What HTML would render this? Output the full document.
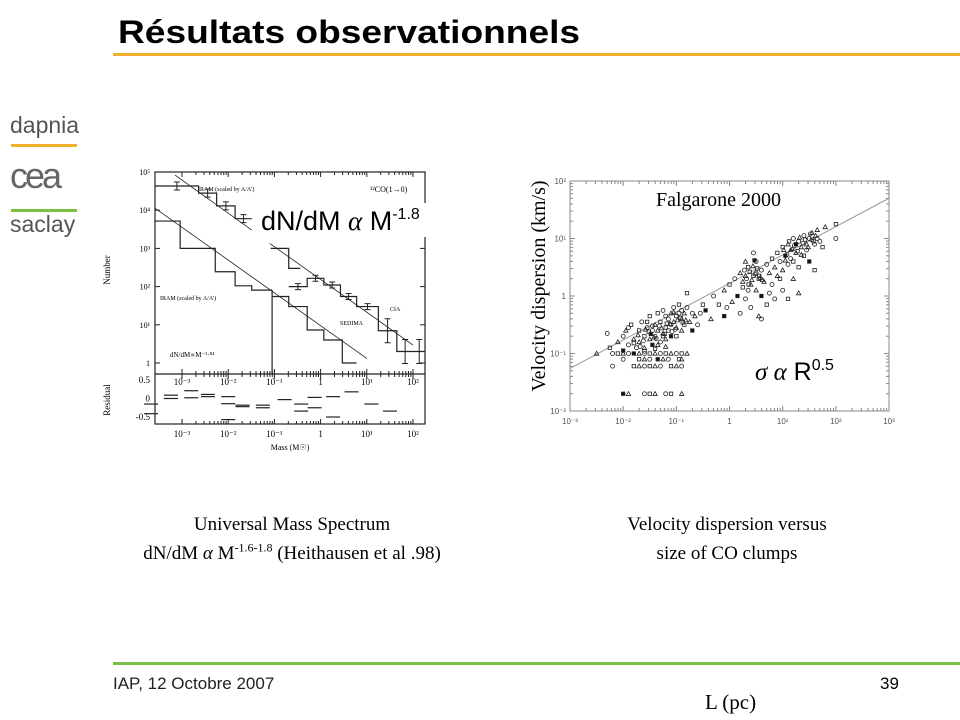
<!DOCTYPE html>
<html><head><meta charset="utf-8"><style>
body{margin:0;background:#fff;width:960px;height:720px;overflow:hidden;position:relative;font-family:"Liberation Sans",sans-serif}
.abs{position:absolute}
.serif{font-family:"Liberation Serif",serif}
sup{line-height:0}
</style></head><body>
<div class="abs" style="left:118px;top:14px;font-size:32px;font-weight:bold;color:#000;transform:scaleX(1.16);transform-origin:0 0;white-space:nowrap">Résultats observationnels</div>
<div class="abs" style="left:113px;top:53px;width:847px;height:3px;background:#f0b030"></div>
<div class="abs" style="left:10px;top:112px;font-size:23px;color:#555">dapnia</div>
<div class="abs" style="left:11px;top:144px;width:66px;height:3px;background:#f0b030"></div>
<div class="abs" style="left:10px;top:155px;font-size:36px;color:#666;letter-spacing:-3px">cea</div>
<div class="abs" style="left:11px;top:209px;width:66px;height:3px;background:#7ac143"></div>
<div class="abs" style="left:10px;top:211px;font-size:23px;color:#555">saclay</div>
<div class="abs" style="left:113px;top:662px;width:847px;height:3px;background:#7ac143"></div>
<div class="abs" style="left:113px;top:674px;font-size:17px;color:#222">IAP, 12 Octobre 2007</div>
<div class="abs" style="left:880px;top:674px;font-size:17px;color:#000">39</div>
<div class="abs serif" style="left:705px;top:690px;font-size:21px">L (pc)</div>
<div class="abs serif" style="left:92px;top:510px;width:400px;text-align:center;font-size:19px;line-height:29px">Universal Mass Spectrum<br>dN/dM <i>α</i> M<sup style="font-size:12px">-1.6-1.8</sup> (Heithausen et al .98)</div>
<div class="abs serif" style="left:527px;top:510px;width:400px;text-align:center;font-size:19px;line-height:29px">Velocity dispersion versus<br>size of CO clumps</div>

<svg class="abs" style="left:0;top:0" width="960" height="720" id="svg"></svg>

<script>
// ---- Left chart data (log10 mass edges, counts) ----
const iramUpperEdges=[-3.58,-2.64,-2.25,-1.85,-1.49];
const iramUpperCounts=[43000,28000,13000,6000];
const iramLowerEdges=[-3.58,-3.04,-2.28,-1.85,-1.49,-1.05];
const iramLowerCounts=[5200,1000,245,105,81];
const sedimaEdges=[-1.05,-0.69,-0.29,0.07,0.47,0.78];
const sedimaCounts=[55,30,7.3,4,1];
const cfaEdges=[-0.69,-0.29,0.07,0.43,0.78,1.25,1.65,2.01,2.26];
const cfaCounts=[100,165,110,55,30,7,2,2];
const cfaTopEdges=[-1.08,-0.69,-0.44];
const cfaTopCounts=[1000,300];
const fitUpper=[[-3.15,4.92],[-1.49,3.48]];
const fitLower=[[-3.58,4.05],[1.0,0.12]];
const fitCfa=[[-1.1,3.13],[2.0,0.47]];
const residM=[-3.67,-3.67,-3.24,-3.24,-2.8,-2.8,-2.44,-2.44,-2.0,-2.0,-2.0,-1.69,-1.69,-1.25,-1.25,-0.78,-0.42,-0.42,-0.13,-0.13,0.27,0.27,0.67,1.1,1.5];
const residV=[-0.15,-0.41,0.09,0.0,0.21,0.02,0.11,0.05,0.05,-0.14,-0.57,-0.18,-0.22,-0.18,-0.25,-0.03,-0.15,-0.34,0.03,-0.25,0.05,-0.5,0.18,-0.15,-0.34];
const leftYTicks=["10⁵","10⁴","10³","10²","10¹","1"];
const leftXTicks=["10⁻³","10⁻²","10⁻¹","1","10¹","10²"];

// ---- Right chart data (log10 L, log10 sigma) ----
const logL=[-2.5,-2.3,-2.25,-2.1,-2.0,-2.0,-1.95,-1.9,-1.85,-1.8,-1.75,-1.7,-1.7,-1.65,-1.6,-1.6,-1.55,-1.5,-1.5,-1.45,-1.45,-1.4,-1.4,-1.35,-1.35,-1.3,-1.3,-1.25,-1.25,-1.2,-1.2,-1.15,-1.15,-1.1,-1.1,-1.1,-1.05,-1.05,-1.0,-1.0,-0.95,-0.95,-0.9,-0.9,-0.85,-0.85,-0.8,-0.8,-0.75,-0.7,-0.7,-0.65,-0.55,-0.5,-0.35,-1.9,-1.55,-1.35,-1.2,-1.0,-0.9,
-2.2,-2.1,-2.0,-1.9,-1.8,-1.7,-1.6,-1.5,-1.4,-1.3,-1.2,-1.1,-1.0,-0.9,-0.8,
-2.0,-1.7,-1.6,-1.5,-1.35,-1.25,-1.15,-0.95,-0.9,
-2.2,-1.8,-1.7,-1.6,-1.5,-1.4,-1.3,-1.1,-1.0,-0.9,
-2.0,-1.9,-1.6,-1.5,-1.4,-1.2,-1.1,-0.9,
-0.3,-0.2,-0.1,-0.05,0.0,0.05,0.1,0.15,0.2,0.2,0.25,0.3,0.3,0.35,0.4,0.4,0.45,0.5,0.5,0.55,0.55,0.6,0.6,0.65,0.7,0.7,0.75,0.8,0.8,0.85,0.85,0.9,0.9,0.95,1.0,1.0,1.0,1.05,1.1,1.1,1.1,1.15,1.2,1.2,1.25,1.3,1.3,1.35,1.4,1.4,1.45,1.5,1.5,1.55,1.6,1.6,1.65,1.7,1.75,1.8,2.0,2.0,0.3,0.45,0.95,1.2,0.6,-0.1,1.3,0.75,
-1.8,-1.72,-1.62,-1.52,-1.42,-1.32,-1.22,-1.12,-1.02,-0.92,-0.82,-1.68,-1.48,-1.28,-1.08,-0.88,-1.58,-1.38,-1.18,-0.98,-1.45,-1.25,-1.05,-1.6,-1.4,-1.2,-0.6,-0.45,
0.25,0.32,0.38,0.42,0.48,0.52,0.58,0.28,0.36,0.44,0.5,0.56,0.62,0.35,0.47,
1.02,1.08,1.12,1.18,1.22,1.28,1.32,1.38,1.42,1.48,1.52,1.58,1.62,1.15,1.25,1.35,1.45,1.55,1.05,1.65];
const logS=[-1.0,-0.65,-0.9,-0.8,-0.7,-0.95,-0.6,-0.85,-0.5,-0.75,-0.9,-0.6,-0.8,-0.45,-0.7,-0.9,-0.55,-0.35,-0.75,-0.6,-0.85,-0.5,-0.7,-0.3,-0.6,-0.8,-0.45,-0.65,-0.25,-0.55,-0.75,-0.4,-0.6,-0.3,-0.5,-0.7,-0.45,-0.2,-0.35,-0.55,-0.3,-0.15,-0.4,-0.25,-0.5,-0.3,-0.2,0.05,-0.45,-0.3,-0.6,-0.35,-0.3,-0.15,-0.4,-0.55,-0.45,-0.85,-0.35,-0.7,-0.6,
-1.0,-1.0,-1.0,-1.0,-1.0,-1.0,-1.0,-1.0,-1.0,-1.0,-1.0,-1.0,-1.0,-1.0,-1.0,
-1.1,-1.1,-1.1,-1.1,-1.1,-1.1,-1.1,-1.1,-1.1,
-1.22,-1.22,-1.22,-1.22,-1.22,-1.22,-1.22,-1.22,-1.22,-1.22,
-1.7,-1.7,-1.7,-1.7,-1.7,-1.7,-1.7,-1.7,
0.0,-0.15,0.1,-0.2,0.2,-0.1,0.3,0.0,0.4,-0.3,0.15,0.35,-0.05,0.5,0.2,-0.2,0.35,0.1,0.6,0.3,-0.35,0.45,0.0,0.25,0.55,-0.15,0.4,0.2,0.65,0.5,-0.05,0.75,0.35,0.6,0.85,0.45,0.1,0.7,0.9,0.55,-0.05,0.8,1.0,0.6,0.75,0.95,0.5,0.85,1.05,0.7,0.9,1.0,0.6,1.1,0.9,0.45,1.15,0.95,0.85,1.2,1.0,1.25,0.6,0.75,0.3,0.3,-0.4,-0.35,0.05,0.05,
-0.82,-0.68,-0.78,-0.62,-0.72,-0.52,-0.66,-0.48,-0.58,-0.38,-0.42,-0.88,-0.66,-0.56,-0.62,-0.46,-0.58,-0.74,-0.48,-0.42,-0.52,-0.7,-0.28,-0.96,-0.92,-0.88,-0.5,-0.25,
0.25,0.3,0.42,0.28,0.38,0.48,0.32,0.45,0.2,0.52,0.4,0.35,0.28,0.1,0.62,
0.8,0.72,0.95,0.82,0.88,0.78,1.02,0.92,0.98,0.85,1.08,0.95,1.05,0.65,0.9,0.72,0.8,0.98,0.62,1.0];
const fitLine=[[-3,-1.26],[3,1.7]];
const rightXTicks=["10⁻³","10⁻²","10⁻¹","1","10¹","10²","10³"];
const rightYTicks=["10²","10¹","1","10⁻¹","10⁻²"];

const NS="http://www.w3.org/2000/svg";
const svg=document.getElementById('svg');
function mk(tag,attrs,parent){const e=document.createElementNS(NS,tag);for(const k in attrs)e.setAttribute(k,attrs[k]);(parent||svg).appendChild(e);return e;}

// Left axes
const LX=lm=>182+(lm+3)*46.2;
const LY=n=>363-Math.log10(n)*38.2;
const LYl=l=>363-l*38.2;
const RY=r=>380+(0.5-r)*37;
const gL=mk('g',{});


const fL=mk('rect',{x:155,y:172,width:270,height:252,fill:'none',stroke:'#222','stroke-width':1.2},gL);

mk('line',{x1:155,y1:374,x2:425,y2:374,stroke:'#222','stroke-width':1.2},gL);
for(let d=-3;d<=2;d++){for(let m=1;m<10;m++){const x=LX(d+Math.log10(m));if(x<155||x>425)continue;const h=m==1?5:3;
mk('line',{x1:x,y1:172,x2:x,y2:172+h,stroke:'#222'},gL);mk('line',{x1:x,y1:374,x2:x,y2:374-h,stroke:'#222'},gL);mk('line',{x1:x,y1:374,x2:x,y2:374+h,stroke:'#222'},gL);mk('line',{x1:x,y1:424,x2:x,y2:424-h,stroke:'#222'},gL);}}
leftYTicks.forEach((t,i)=>{const y=LYl(5-i);const e=mk('text',{x:150,y:y+3,'font-size':8,'text-anchor':'end','font-family':'Liberation Serif'},gL);e.textContent=t;
mk('line',{x1:155,y1:y,x2:160,y2:y,stroke:'#222'},gL);mk('line',{x1:425,y1:y,x2:420,y2:y,stroke:'#222'},gL);});
leftXTicks.forEach((t,i)=>{const x=LX(i-3);const e=mk('text',{x:x,y:437,'font-size':9,'text-anchor':'middle','font-family':'Liberation Serif'},gL);e.textContent=t;
const e2=mk('text',{x:x,y:385,'font-size':9,'text-anchor':'middle','font-family':'Liberation Serif'},gL);e2.textContent=t;});
[["0.5",0.5],["0",0],["-0.5",-0.5]].forEach(([t,v])=>{const e=mk('text',{x:150,y:RY(v)+3,'font-size':9,'text-anchor':'end','font-family':'Liberation Serif'},gL);e.textContent=t;});
let t=mk('text',{x:0,y:0,'font-size':9,'text-anchor':'middle','font-family':'Liberation Serif',transform:'translate(110,270) rotate(-90)'},gL);t.textContent='Number';
t=mk('text',{x:0,y:0,'font-size':9,'text-anchor':'middle','font-family':'Liberation Serif',transform:'translate(110,400) rotate(-90)'},gL);t.textContent='Residual';
t=mk('text',{x:290,y:450,'font-size':8,'text-anchor':'middle','font-family':'Liberation Serif'},gL);t.textContent='Mass (M☉)';
[[198,191,6,'IRAM (scaled by A/A\')'],[160,300,6,'IRAM (scaled by A/A\')'],[170,357,7,'dN/dM∝M⁻¹·⁸⁴'],[340,325,6,'SEDIMA'],[390,311,6,'CfA'],[370,192,8,'¹²CO(1→0)']].forEach(a=>{const e=mk('text',{x:a[0],y:a[1],'font-size':a[2],'font-family':'Liberation Serif'},gL);e.textContent=a[3];});
function hist(edges,counts,name){let d='';counts.forEach((c,i)=>{const y=LY(c);d+=(i==0?'M':'L')+LX(edges[i])+','+y+'L'+LX(edges[i+1])+','+y;});
const p=mk('path',{d:d,fill:'none',stroke:'#222','stroke-width':1.2},gL);}
hist(iramUpperEdges,iramUpperCounts,'iram-upper-histogram');
hist(iramLowerEdges,iramLowerCounts,'iram-lower-histogram');
hist(sedimaEdges,sedimaCounts,'sedima-histogram');
hist(cfaEdges,cfaCounts,'cfa-histogram');
hist(cfaTopEdges,cfaTopCounts,'cfa-upper-histogram');
mk('line',{x1:LX(iramLowerEdges[5]),y1:LY(iramLowerCounts[4]),x2:LX(iramLowerEdges[5]),y2:374,stroke:'#222','stroke-width':1.2},gL);
iramUpperCounts.forEach((c,i)=>{const x=LX((iramUpperEdges[i]+iramUpperEdges[i+1])/2),y=LY(c);mk('path',{d:`M${x},${y-4}L${x},${y+4}M${x-3},${y-4}L${x+3},${y-4}M${x-3},${y+4}L${x+3},${y+4}`,stroke:'#222',fill:'none'},gL);});
cfaCounts.forEach((c,i)=>{const x=LX((cfaEdges[i]+cfaEdges[i+1])/2),y=LY(c);const h=i>4?12:3;mk('path',{d:`M${x},${y-h}L${x},${y+h}M${x-3},${y-h}L${x+3},${y-h}M${x-3},${y+h}L${x+3},${y+h}`,stroke:'#222',fill:'none'},gL);});
[fitUpper,fitLower,fitCfa].forEach((f,i)=>{const l=mk('line',{x1:LX(f[0][0]),y1:LYl(f[0][1]),x2:LX(f[1][0]),y2:LYl(f[1][1]),stroke:'#222','stroke-width':0.8},gL);});
residM.forEach((m,i)=>{const x=LX(m),y=RY(residV[i]);const l=mk('line',{x1:x-7,y1:y,x2:x+7,y2:y,stroke:'#222','stroke-width':1.2},gL);});
// overlay label
mk('rect',{x:256,y:203,width:180,height:34,fill:'#fff'},gL);
t=mk('text',{x:261,y:230,'font-size':27,'font-family':'Liberation Sans'},gL);
t.innerHTML='dN/dM <tspan font-family="Liberation Serif" font-style="italic">α</tspan> M<tspan font-size="16" dy="-11">-1.8</tspan>';

// Right chart
const RX=l=>570+(l+3)*53.17;
const RYs=s=>296-s*57.5;
const gR=mk('g',{});


const fR=mk('rect',{x:570,y:181,width:319,height:230,fill:'none',stroke:'#888','stroke-width':1},gR);

for(let d=-3;d<3;d++)for(let m=1;m<10;m++){const x=RX(d+Math.log10(m));const h=m==1?5:3;mk('line',{x1:x,y1:181,x2:x,y2:181+h,stroke:'#888'},gR);mk('line',{x1:x,y1:411,x2:x,y2:411-h,stroke:'#888'},gR);}
for(let d=-2;d<2;d++)for(let m=1;m<10;m++){const y=RYs(d+Math.log10(m));const h=m==1?5:3;mk('line',{x1:570,y1:y,x2:570+h,y2:y,stroke:'#888'},gR);mk('line',{x1:889,y1:y,x2:889-h,y2:y,stroke:'#888'},gR);}
rightXTicks.forEach((s,i)=>{const e=mk('text',{x:RX(i-3),y:424,'font-size':8,'text-anchor':'middle',fill:'#555'},gR);e.textContent=s;});
rightYTicks.forEach((s,i)=>{const e=mk('text',{x:566,y:RYs(2-i)+3,'font-size':8,'text-anchor':'end',fill:'#555'},gR);e.textContent=s;});
const fl=mk('line',{x1:RX(fitLine[0][0]),y1:RYs(fitLine[0][1]),x2:RX(fitLine[1][0]),y2:RYs(fitLine[1][1]),stroke:'#999','stroke-width':1},gR);

logL.forEach((l,i)=>{const x=RX(l),y=RYs(logS[i]);let e;const k=i%3;
if(k==0)e=mk('path',{d:`M${x},${y-2.2}L${x+2.2},${y+1.7}L${x-2.2},${y+1.7}Z`,fill:'none',stroke:'#222','stroke-width':0.8},gR);
else if(k==1)e=mk('circle',{cx:x,cy:y,r:2,fill:'none',stroke:'#222','stroke-width':0.8},gR);
else e=mk('rect',{x:x-1.7,y:y-1.7,width:3.4,height:3.4,fill:(i%5==0?'#111':'none'),stroke:'#222','stroke-width':0.8},gR);

});
t=mk('text',{x:656,y:206,'font-size':20,'font-family':'Liberation Serif'},gR);t.textContent='Falgarone 2000';
t=mk('text',{x:0,y:0,'font-size':20,'text-anchor':'middle','font-family':'Liberation Serif',transform:'translate(545,286) rotate(-90)'},gR);t.textContent='Velocity  dispersion (km/s)';
t=mk('text',{x:755,y:380,'font-size':25,'font-family':'Liberation Sans'},gR);
t.innerHTML='<tspan font-family="Liberation Serif" font-style="italic">σ  α</tspan> R<tspan font-size="16" dy="-10">0.5</tspan>';
</script>
</body></html>
